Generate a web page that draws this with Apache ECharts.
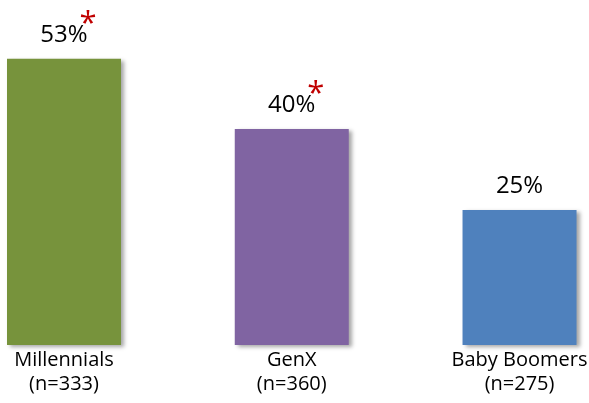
<!DOCTYPE html>
<html><head><meta charset="utf-8">
<script src="https://cdn.jsdelivr.net/npm/echarts@6/dist/echarts.min.js"></script>
<style>html,body{margin:0;padding:0;background:#fff}#c{width:589px;height:403px}</style>
</head><body><div id="c"></div>
<script>
const categories = ["Millennials\n(n=333)", "GenX\n(n=360)", "Baby Boomers\n(n=275)"];
const values = [53, 40, 25];
const significant = [true, true, false];
const colors = ["#77933C", "#8064A2", "#4F81BD"];

const chart = echarts.init(document.getElementById('c'));
const FONT = "Open Sans";
chart.setOption({
  animation: false,
  grid: { left: 0, right: 0, top: 21, height: 324 },
  xAxis: { type: 'value', min: -0.281, max: 2.305, show: false, splitLine: { show: false } },
  yAxis: { type: 'value', min: 0, max: 60, show: false, splitLine: { show: false } },
  series: [{
    type: 'bar', barWidth: 114,
    data: values.map((v, i) => ({
      value: [i, v],
      itemStyle: { color: colors[i], shadowBlur: 4, shadowOffsetX: 3, shadowOffsetY: 2, shadowColor: 'rgba(0,0,0,0.35)' }
    })),
    label: {
      show: true, position: 'top', distance: 12,
      formatter: p => p.value[1] + '%',
      fontSize: 24, fontFamily: FONT, color: '#000'
    }
  }, {
    type: 'scatter', symbolSize: 0, silent: true,
    itemStyle: { opacity: 1 },
    data: values.map((v, i) => significant[i] ? [i, v] : null).filter(d => d),
    label: {
      show: true, position: 'top', distance: 0, offset: [24, -19], opacity: 1,
      formatter: '*', fontSize: 31, fontFamily: FONT, color: '#C00000'
    }
  }, {
    type: 'scatter', symbolSize: 0, silent: true,
    itemStyle: { opacity: 1 },
    data: categories.map((c, i) => [i, 0]),
    label: {
      show: true, position: 'bottom', distance: 3, opacity: 1,
      formatter: p => categories[p.dataIndex],
      fontSize: 20, fontFamily: FONT, color: '#000', lineHeight: 24
    }
  }]
});
</script></body></html>
